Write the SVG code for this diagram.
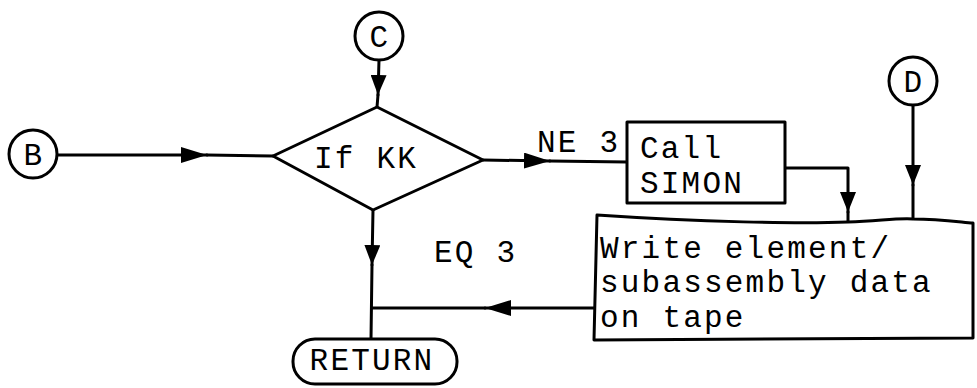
<svg xmlns="http://www.w3.org/2000/svg" width="977" height="388" viewBox="0 0 977 388">
<style>
.s{fill:none;stroke:#000;stroke-width:3;stroke-linejoin:round;stroke-linecap:round}
.n{fill:#fff;stroke:#000;stroke-width:3;stroke-linejoin:round}
.t{font-family:"Liberation Mono","Courier New",monospace;font-size:31px;fill:#000;letter-spacing:2.2px}
.c{text-anchor:middle}
</style>
<defs>
<marker id="ah" markerUnits="userSpaceOnUse" viewBox="0 0 26 16" refX="26" refY="8" markerWidth="26" markerHeight="16" orient="auto"><path d="M0,0 L26,8 L0,16 Z" fill="#000"/></marker>
<marker id="av" markerUnits="userSpaceOnUse" viewBox="0 0 20 16" refX="20" refY="8" markerWidth="20" markerHeight="16" orient="auto"><path d="M0,0 L20,8 L0,16 Z" fill="#000"/></marker>
</defs>
<rect width="977" height="388" fill="#fff"/>
<g id="connectors">
<path class="s" d="M58,155 L207,155" marker-end="url(#ah)"/>
<path class="s" d="M207,155 L273,156"/>
<path class="s" d="M379,60 L378,95" marker-end="url(#av)"/>
<path class="s" d="M378,95 L377,107"/>
<path class="s" d="M483,160 L550,161" marker-end="url(#ah)"/>
<path class="s" d="M550,161 L627,162"/>
<path class="s" d="M785,168 L848,168 L848,212" marker-end="url(#av)"/>
<path class="s" d="M848,212 L848,222"/>
<path class="s" d="M913,105 L913,185" marker-end="url(#av)"/>
<path class="s" d="M913,185 L913,219"/>
<path class="s" d="M595,308 L485,308" marker-end="url(#ah)"/>
<path class="s" d="M485,308 L372,308"/>
<path class="s" d="M373,210 L372,265" marker-end="url(#av)"/>
<path class="s" d="M372,265 L371,339"/>
</g>
<g id="nodeB"><circle class="n" cx="33" cy="154" r="24"/><text class="t c" x="34" y="165">B</text></g>
<g id="nodeC"><circle class="n" cx="379" cy="36" r="24"/><text class="t c" x="380" y="47">C</text></g>
<g id="nodeD"><circle class="n" cx="913" cy="81" r="24"/><text class="t c" x="914" y="92">D</text></g>
<g id="decision"><path class="n" d="M273,156 L377,107 L483,160 L373,210 Z"/><text class="t c" x="366" y="168">If KK</text></g>
<g id="labelNE"><text class="t" x="537" y="152">NE 3</text></g>
<g id="labelEQ"><text class="t" x="434" y="262">EQ 3</text></g>
<g id="callSimon"><rect class="n" x="627" y="122" width="158" height="81"/><text class="t" x="640" y="158">Call</text><text class="t" x="640" y="193">SIMON</text></g>
<g id="writeData"><path class="n" d="M597,215 C700,222 800,224 848,222 C880,221 895,218 913,219 C940,219 960,222 973,223 L973,338 L594,340 Z"/><text class="t" x="600" y="258">Write element/</text><text class="t" x="600" y="292">subassembly data</text><text class="t" x="600" y="327">on tape</text></g>
<g id="returnNode"><rect class="n" x="293" y="339" width="164" height="45" rx="22" ry="22"/><text class="t c" x="372" y="370">RETURN</text></g>
</svg>
